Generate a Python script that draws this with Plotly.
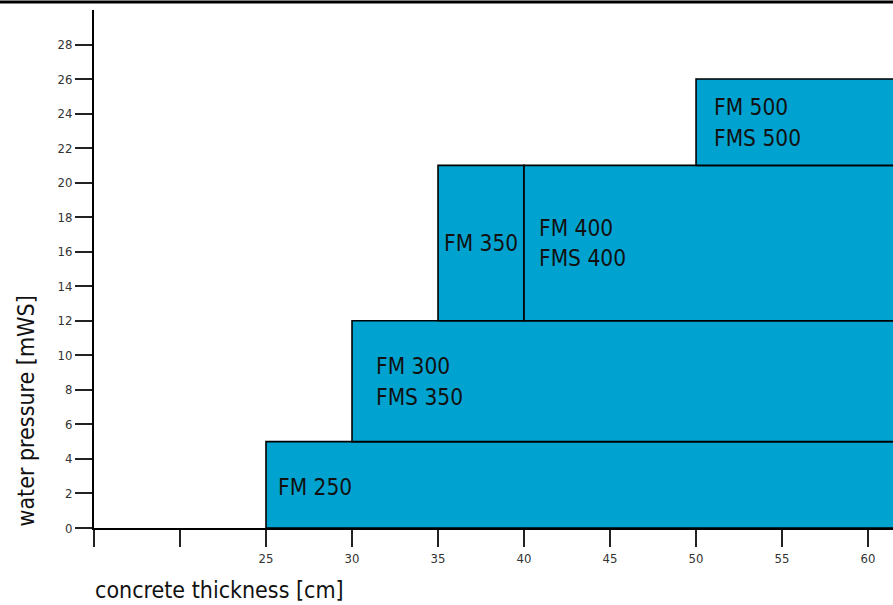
import plotly.graph_objects as go

# ---- data ----
membranes = ["FM 250", "FM 300 / FMS 350", "FM 350", "FM 400 / FMS 400", "FM 500 / FMS 500"]
thickness_from = [25, 30, 35, 40, 50]      # cm
thickness_to = [62, 62, 40, 62, 62]        # cm (open-ended ranges run past the axis end)
pressure_from = [0, 5, 12, 12, 21]         # mWS
pressure_to = [5, 12, 21, 21, 26]          # mWS

label_lines = [["FM 250"], ["FM 300", "FMS 350"], ["FM 350"], ["FM 400", "FMS 400"], ["FM 500", "FMS 500"]]
label_x = [25.56, 31.28, 35.25, 40.76, 50.93]
label_y = [[2.37], [9.38, 7.59], [16.5], [17.37, 15.64], [24.38, 22.59]]

x_ticks = [15, 20, 25, 30, 35, 40, 45, 50, 55, 60]
x_tick_text = ["", "", "25", "30", "35", "40", "45", "50", "55", "60"]
y_ticks = list(range(0, 30, 2))

FONT = "DejaVu Sans Condensed, DejaVu Sans, sans-serif"
FILL = "#00a3d0"

fig = go.Figure()
# invisible trace to establish axes
fig.add_trace(go.Scatter(x=[15, 61.45], y=[0, 30], mode="markers",
                         marker=dict(opacity=0), hoverinfo="skip", showlegend=False))

shapes = []
for x0, x1, y0, y1 in zip(thickness_from, thickness_to, pressure_from, pressure_to):
    shapes.append(dict(type="rect", xref="x", yref="y", x0=x0, x1=x1, y0=y0, y1=y1,
                       fillcolor=FILL, line=dict(color="black", width=1.6), layer="below"))
# top border line
shapes.append(dict(type="line", xref="paper", yref="paper", x0=-0.12, x1=1.0,
                   y0=1.0154, y1=1.0154, line=dict(color="black", width=3)))

annotations = []
for lines, lx, lys in zip(label_lines, label_x, label_y):
    for txt, ly in zip(lines, lys):
        annotations.append(dict(x=lx, y=ly, xref="x", yref="y", text=txt, showarrow=False,
                                xanchor="left", yanchor="middle",
                                font=dict(family=FONT, size=22.5, color="#111")))

annotations.append(dict(xref="paper", yref="paper", x=-0.0015, y=-0.119, text="concrete thickness [cm]",
                        showarrow=False, xanchor="left", yanchor="middle",
                        font=dict(family=FONT, size=23, color="#111")))
annotations.append(dict(xref="paper", yref="paper", x=-0.085, y=0.225, text="water pressure [mWS]",
                        showarrow=False, xanchor="center", yanchor="middle", textangle=-90,
                        font=dict(family=FONT, size=23, color="#111")))

fig.update_layout(
    width=893, height=605,
    margin=dict(l=94, r=0, t=10, b=77),
    paper_bgcolor="white", plot_bgcolor="white",
    shapes=shapes, annotations=annotations, showlegend=False,
    xaxis=dict(range=[15, 61.45], tickvals=x_ticks, ticktext=x_tick_text,
               showline=True, linecolor="black", linewidth=2, showgrid=False, zeroline=False,
               ticks="outside", ticklen=17, tickwidth=2, tickcolor="#222",
               tickfont=dict(family=FONT, size=13, color="#333"), fixedrange=True),
    yaxis=dict(range=[0, 30], tickvals=y_ticks,
               showline=True, linecolor="black", linewidth=2, showgrid=False, zeroline=False,
               ticks="outside", ticklen=17, tickwidth=2, tickcolor="#222",
               tickfont=dict(family=FONT, size=13, color="#333"), fixedrange=True),
)

fig.write_html("out.html", config={"displayModeBar": False},
               post_script="document.body.style.margin='0';document.body.style.overflow='hidden';")
